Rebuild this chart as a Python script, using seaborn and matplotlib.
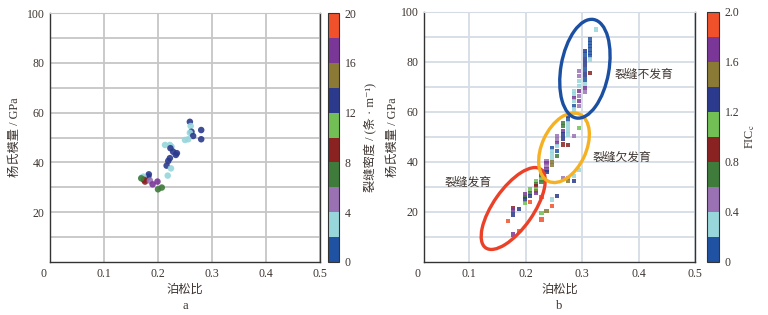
import matplotlib
matplotlib.use("Agg")
import matplotlib.pyplot as plt
import numpy as np
import pandas as pd
import seaborn as sns
from matplotlib.colors import ListedColormap, Normalize
from matplotlib.cm import ScalarMappable
from matplotlib.patches import Ellipse
from matplotlib.transforms import ScaledTranslation

# ---- data: panel a (circles, coloured by fracture density) ----
poisson_a = [0.259, 0.2605, 0.280, 0.262, 0.259, 0.265, 0.280, 0.250, 0.256, 0.213,
             0.222, 0.225, 0.223, 0.228, 0.235, 0.233, 0.222, 0.219, 0.216, 0.224,
             0.218, 0.183, 0.182, 0.179, 0.170, 0.173, 0.174, 0.176, 0.185, 0.199,
             0.190, 0.200, 0.207, 0.169]
young_a = [56.3, 54.6, 53.0, 52.3, 51.9, 50.6, 49.3, 49.0, 49.3, 47.0,
           47.0, 46.3, 45.7, 44.3, 43.7, 43.0, 41.7, 40.6, 38.7, 37.6,
           34.7, 35.2, 34.3, 33.6, 33.9, 34.3, 33.0, 32.3, 32.7, 32.3,
           31.2, 29.2, 29.9, 33.6]
density_a = [13, 3, 13, 13, 3, 13, 13, 3, 3, 3,
             3, 3, 13, 13, 13, 13, 13, 13, 13, 3,
             3, 13, 13, 13, 3, 3, 9, 9, 5, 17,
             17, 7, 7, 7]

# ---- data: panel b (squares in columns of Poisson ratio, coloured by FIC_c) ----
poisson_cols_b = [0.169, 0.178, 0.188, 0.199, 0.208, 0.218, 0.228, 0.237, 0.247,
                  0.256, 0.266, 0.275, 0.285, 0.295, 0.305, 0.314, 0.325]
young_b = [
    [16.5],
    [21.6, 20.7, 19.0, 11.0],
    [21.2, 12.3],
    [27.0, 26.0, 25.0, 23.5],
    [29.0, 27.6, 26.3, 24.0],
    [32.3, 31.2, 30.3, 29.0, 28.3, 27.6],
    [36.3, 35.0, 34.3, 33.0, 32.0, 26.0, 19.6, 17.0],
    [40.3, 39.6, 38.3, 37.0, 36.0, 20.3],
    [45.6, 44.3, 43.0, 41.2, 40.0, 38.7, 25.0, 22.3],
    [50.3, 49.0, 47.6, 46.3, 44.3, 42.5, 26.5],
    [55.6, 54.3, 52.5, 51.0, 49.2, 47.0, 33.6],
    [58.3, 57.0, 55.5, 54.0, 52.5, 51.0, 46.7, 33.6, 32.3],
    [68.3, 67.0, 65.6, 64.3, 62.5, 61.0, 59.5, 50.3, 34.3, 32.3],
    [76.3, 74.3, 72.3, 70.3, 68.3, 66.3, 64.3, 62.3, 53.5, 36.7],
    [84.3, 83.0, 81.0, 79.0, 77.0, 75.0, 73.0, 71.0, 69.6, 68.0],
    [89.0, 87.6, 86.3, 85.0, 83.6, 82.3, 81.0, 75.6],
    [93.0],
]
fic_b = [
    [1.9],
    [0.9, 1.7, 1.3, 1.7],
    [1.3, 1.9],
    [1.7, 0.7, 1.3, 1.1],
    [1.1, 0.7, 1.3, 1.9],
    [1.1, 0.7, 0.9, 1.1, 1.5, 1.7],
    [0.5, 1.7, 0.7, 1.1, 0.7, 1.9, 1.1, 1.9],
    [0.5, 1.7, 0.5, 1.7, 1.3, 1.5],
    [0.1, 0.3, 0.3, 0.3, 1.5, 1.5, 0.3, 1.9],
    [0.5, 0.5, 1.7, 0.3, 0.1, 0.7, 1.3],
    [0.7, 0.7, 1.7, 1.3, 1.3, 0.9, 0.5],
    [1.3, 0.1, 0.3, 0.3, 0.3, 0.3, 0.9, 0.5, 1.5],
    [0.3, 0.3, 1.7, 0.3, 0.1, 0.3, 0.3, 0.5, 0.3, 1.3],
    [0.5, 0.5, 0.3, 0.3, 1.7, 0.5, 1.7, 0.5, 1.1, 0.3],
    [1.3, 0.1, 1.3, 1.3, 0.1, 1.3, 0.1, 0.3, 1.7, 0.5],
    [0.1, 0.1, 0.1, 0.1, 0.1, 0.1, 0.3, 0.9],
    [0.3],
]

band_colors = ["#1f52a3", "#97d6db", "#9a72b4", "#3f7b3b", "#8a2222",
               "#72c055", "#2b3a8c", "#8a7a36", "#7b3798", "#f0512b"]
density_ticks = [0, 4, 8, 12, 16, 20]
fic_ticks = [0, 0.4, 0.8, 1.2, 1.6, 2.0]

# zones in panel b: label, centre (data), semi-axes (px), angle, colour, label position
zone_names = ["裂缝发育", "裂缝欠发育", "裂缝不发育"]
zone_centres = [(0.178, 21.4), (0.268, 45.7), (0.305, 77.3)]
zone_axes_px = [(48, 20), (37, 22), (50, 24)]
zone_angles = [55, 65, 80]
zone_colors = ["#ea4128", "#f6b122", "#1b4fa1"]
zone_text_pos = [(0.056, 31.5), (0.318, 41.5), (0.357, 75.0)]

text_color = "#3e3531"

sns.set_style("white")
plt.rcParams["font.family"] = ["Liberation Serif", "Noto Sans CJK SC", "DejaVu Serif"]
plt.rcParams["mathtext.fontset"] = "stix"
plt.rcParams["font.size"] = 8.5
plt.rcParams["text.color"] = text_color
plt.rcParams["axes.labelcolor"] = text_color
plt.rcParams["axes.labelsize"] = 8.8
plt.rcParams["xtick.color"] = text_color
plt.rcParams["ytick.color"] = text_color
plt.rcParams["xtick.labelsize"] = 8.5
plt.rcParams["ytick.labelsize"] = 8.5

cmap = ListedColormap(band_colors)

df_a = pd.DataFrame({"poisson": poisson_a, "young": young_a, "density": density_a})
rows = []
for x, ys, cs in zip(poisson_cols_b, young_b, fic_b):
    for y, c in zip(ys, cs):
        rows.append((x, y, c))
df_b = pd.DataFrame(rows, columns=["poisson", "young", "fic"])

fig = plt.figure(figsize=(7.68, 3.15), dpi=100)
W, H = 768, 315


def px_axes(l, t, r, b):
    return fig.add_axes([l / W, 1 - b / H, (r - l) / W, (b - t) / H])


def style_axes(ax, xmin, grid_color, label_x):
    ax.set_xlim(xmin, 0.5)
    ax.set_ylim(0, 100)
    ax.set_xticks([0.1, 0.2, 0.3, 0.4, 0.5])
    ax.set_xticklabels(["0.1", "0.2", "0.3", "0.4", "0.5"])
    ax.set_yticks([20, 40, 60, 80, 100])
    ax.set_yticks([10, 30, 50, 70, 90], minor=True)
    ax.tick_params(which="both", length=0, pad=4)
    ax.grid(True, which="both", color=grid_color, linewidth=1.3)
    ax.set_axisbelow(True)
    for side in ["left", "bottom", "right"]:
        ax.spines[side].set_color("#333333")
        ax.spines[side].set_linewidth(1.0)
    ax.spines["top"].set_color(grid_color)
    ax.set_xlabel("泊松比", va="center")
    ax.set_ylabel("杨氏模量 / GPa", va="center")
    ax.xaxis.set_label_coords(0.5, -0.112)
    ax.yaxis.set_label_coords(label_x, 0.5)
    ax.annotate("0", xy=(0, 0), xycoords="axes fraction", xytext=(-5, -4),
                textcoords="offset points", ha="center", va="top")


def add_colorbar(cax, vmax, ticks, labels, title, title_x):
    sm = ScalarMappable(norm=Normalize(0, vmax), cmap=cmap)
    cb = fig.colorbar(sm, cax=cax)
    cb.set_ticks(ticks)
    cb.set_ticklabels(labels)
    cb.ax.tick_params(length=0, pad=4)
    cb.outline.set_edgecolor("#333333")
    cb.outline.set_linewidth(0.8)
    cb.set_label(title, rotation=90, va="center", ha="center", fontsize=8.8)
    cax.yaxis.set_label_coords(title_x, 0.5)


# ---- panel a ----
ax_a = px_axes(50, 13, 320, 262)
sns.scatterplot(data=df_a, x="poisson", y="young", hue="density", palette=cmap,
                hue_norm=Normalize(0, 20), s=22, marker="o", linewidth=0,
                alpha=0.9, legend=False, ax=ax_a)
style_axes(ax_a, 0.0, "#c6c6c6", -0.13)
ax_a.text(0.5, -0.177, "a", transform=ax_a.transAxes, ha="center", va="center", fontsize=9)
cax_a = px_axes(328, 13, 339, 262)
add_colorbar(cax_a, 20, density_ticks, [str(t) for t in density_ticks],
             "裂缝密度 / (条 · m⁻¹)", 3.8)

# ---- panel b ----
ax_b = px_axes(424, 12, 695, 262)
sns.scatterplot(data=df_b, x="poisson", y="young", hue="fic", palette=cmap,
                hue_norm=Normalize(0, 2.0), s=9, marker="s", linewidth=0,
                alpha=0.85, legend=False, ax=ax_b)
style_axes(ax_b, 0.02, "#d5dce4", -0.114)
ax_b.text(0.5, -0.177, "b", transform=ax_b.transAxes, ha="center", va="center", fontsize=9)

for name, c, (a, b), ang, col, tpos in zip(zone_names, zone_centres, zone_axes_px,
                                            zone_angles, zone_colors, zone_text_pos):
    tr = fig.dpi_scale_trans + ScaledTranslation(c[0], c[1], ax_b.transData)
    ax_b.add_patch(Ellipse((0, 0), 2 * a / 100, 2 * b / 100, angle=ang,
                           transform=tr, fill=False, edgecolor=col,
                           linewidth=2.4, clip_on=False, zorder=5))
    ax_b.text(tpos[0], tpos[1], name, ha="left", va="center", fontsize=8.5, zorder=6)

cax_b = px_axes(707, 12, 719, 262)
add_colorbar(cax_b, 2.0, fic_ticks, ["0", "0.4", "0.8", "1.2", "1.6", "2.0"],
             "FIC$_{\\rm c}$", 3.6)

fig.savefig("out.png", dpi=100)
